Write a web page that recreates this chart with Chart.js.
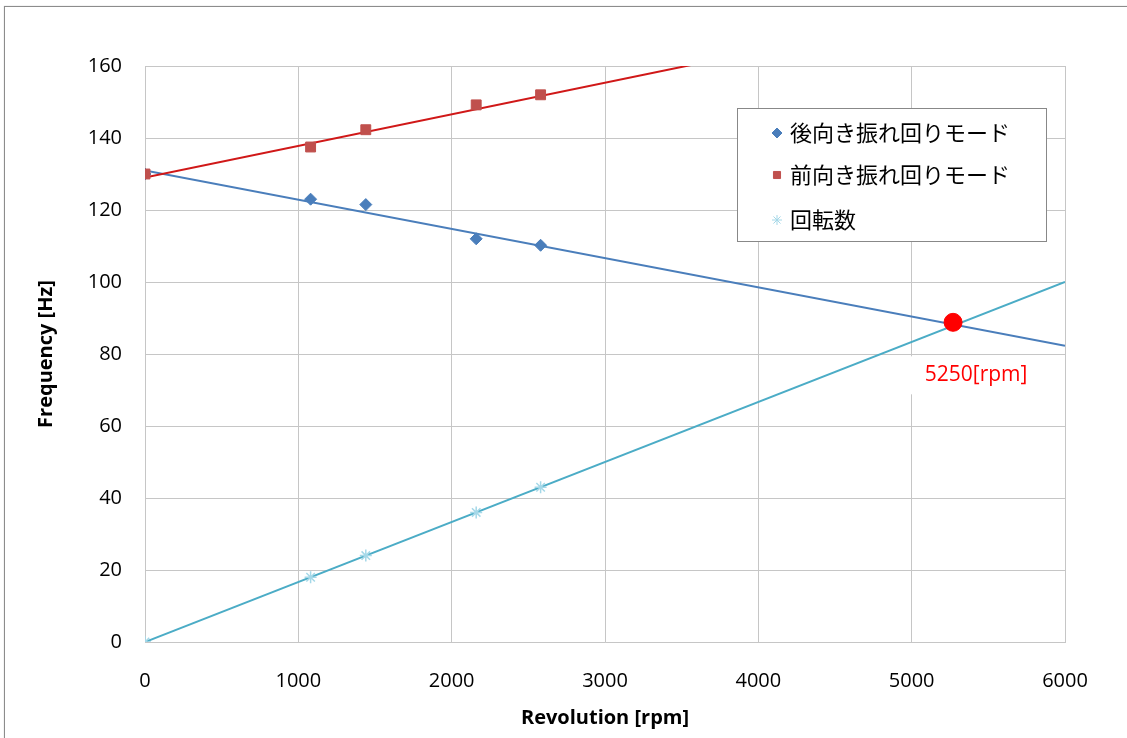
<!DOCTYPE html>
<html lang="ja">
<head>
    <meta charset="UTF-8">
    <title>Frequency vs Revolution</title>
    <script src="https://cdn.jsdelivr.net/npm/chart.js"></script>
    <style>
        body { margin: 0; background: #fff; }
        #wrap { position: relative; width: 1127px; height: 738px; overflow: hidden; }
        #frame {
            position: absolute; left: 4px; top: 6px; width: 1200px; height: 800px;
            border: 1px solid #8c8c8c; box-shadow: 0 0 1px #bbb; pointer-events: none;
        }
        canvas { position: absolute; left: 0; top: 0; }
    </style>
</head>
<body>
    <div id="wrap">
        <canvas id="freqChart" width="1127" height="738"></canvas>
        <div id="frame"></div>
    </div>
    <script>
        // measured points
        const rpm = [0, 1080, 1440, 2160, 2580];
        const backward = [130, 123, 121.5, 112, 110.2];
        const forward = [130, 137.5, 142.3, 149.2, 152];
        const revolution = [0, 18, 24, 36, 43];

        // linear trend lines (end points)
        const trendRpm = [0, 6000];
        const backwardTrend = [131, 82.3];
        const forwardTrend = [129, 181.7];
        const revolutionTrend = [0, 100];

        // crossing point
        const crossRpm = [5270];
        const crossFreq = [88.8];
        const crossLabel = '5250[rpm]';

        const labels = ['後向き振れ回りモード', '前向き振れ回りモード', '回転数'];

        const toXY = (xs, ys) => xs.map((x, i) => ({ x: x, y: ys[i] }));

        const blue = '#4a7ebb';
        const red = '#c0504d';
        const cyan = '#4bacc6';

        // legend box drawn inside the plot, like the Excel one
        const boxLegend = {
            id: 'boxLegend',
            afterDraw(chart) {
                const c = chart.ctx;
                const left = 737, top = 108, w = 309, h = 133;
                c.save();
                c.fillStyle = '#fff';
                c.fillRect(left, top, w, h);
                c.strokeStyle = '#888';
                c.lineWidth = 1;
                c.strokeRect(left + 0.5, top + 0.5, w, h);
                c.font = '22px "Noto Sans CJK JP"';
                c.textBaseline = 'middle';
                const rows = [25, 67, 112];
                [0, 1, 2].forEach(i => {
                    const ds = chart.data.datasets[i];
                    const y = top + rows[i];
                    c.fillStyle = ds.backgroundColor;
                    c.strokeStyle = ds.borderColor;
                    c.lineWidth = 1;
                    Chart.helpers.drawPoint(c, {
                        pointStyle: ds.pointStyle,
                        radius: 5,
                        borderWidth: 1
                    }, left + 40, y);
                    c.fillStyle = '#000';
                    c.fillText(labels[i], left + 53, y);
                });
                c.restore();
            }
        };

        // label under the crossing point
        const crossText = {
            id: 'crossText',
            afterDatasetsDraw(chart) {
                const meta = chart.getDatasetMeta(6);
                const pt = meta.data[0];
                const c = chart.ctx;
                c.save();
                c.fillStyle = '#fff';
                c.fillRect(pt.x - 43, pt.y + 34, 134, 38);
                c.font = '21px "Open Sans"';
                c.fillStyle = '#ff0000';
                c.textAlign = 'center';
                c.textBaseline = 'middle';
                c.fillText(crossLabel, pt.x + 23, pt.y + 53);
                c.restore();
            }
        };

        const ctx = document.getElementById('freqChart').getContext('2d');
        const chart = new Chart(ctx, {
            type: 'scatter',
            data: {
                datasets: [
                    {
                        label: labels[0],
                        data: toXY(rpm, backward),
                        pointStyle: 'rectRot',
                        pointRadius: 6,
                        backgroundColor: blue,
                        borderColor: blue,
                        borderWidth: 1,
                        order: 2
                    },
                    {
                        label: labels[1],
                        data: toXY(rpm, forward),
                        pointStyle: 'rect',
                        pointRadius: 7,
                        backgroundColor: red,
                        borderColor: red,
                        borderWidth: 1,
                        order: 1
                    },
                    {
                        label: labels[2],
                        data: toXY(rpm, revolution),
                        pointStyle: 'star',
                        pointRadius: 6,
                        backgroundColor: '#a5d8e8',
                        borderColor: '#a5d8e8',
                        borderWidth: 1.5,
                        order: 3
                    },
                    {
                        data: toXY(trendRpm, backwardTrend),
                        showLine: true,
                        pointRadius: 0,
                        borderColor: blue,
                        borderWidth: 2,
                        order: 5
                    },
                    {
                        data: toXY(trendRpm, forwardTrend),
                        showLine: true,
                        pointRadius: 0,
                        borderColor: '#d01818',
                        borderWidth: 2,
                        order: 4
                    },
                    {
                        data: toXY(trendRpm, revolutionTrend),
                        showLine: true,
                        pointRadius: 0,
                        borderColor: cyan,
                        borderWidth: 2,
                        order: 6
                    },
                    {
                        data: toXY(crossRpm, crossFreq),
                        pointStyle: 'circle',
                        pointRadius: 9,
                        backgroundColor: '#ff0000',
                        borderColor: '#ff0000',
                        order: 0
                    }
                ]
            },
            options: {
                responsive: false,
                animation: false,
                layout: { padding: { left: 0, top: 66, right: 62, bottom: 0 } },
                scales: {
                    x: {
                        type: 'linear',
                        min: 0,
                        max: 6000,
                        afterFit: s => { s.height = 96; },
                        ticks: {
                            stepSize: 1000,
                            padding: 27,
                            color: '#000',
                            font: { family: 'Open Sans', size: 20 },
                            callback: v => String(v)
                        },
                        grid: { color: '#c6c6c6', lineWidth: 1, drawTicks: false },
                        border: { color: '#c6c6c6' },
                        title: {
                            display: true,
                            text: 'Revolution [rpm]',
                            color: '#000',
                            font: { family: 'Open Sans', size: 20, weight: 'bold' },
                            padding: { top: 0, bottom: 8 }
                        }
                    },
                    y: {
                        min: 0,
                        max: 160,
                        afterFit: s => { s.width = 145; },
                        ticks: {
                            stepSize: 20,
                            padding: 23,
                            color: '#000',
                            font: { family: 'Open Sans', size: 20 }
                        },
                        grid: { color: '#c6c6c6', lineWidth: 1, drawTicks: false },
                        border: { color: '#c6c6c6' },
                        title: {
                            display: true,
                            text: 'Frequency [Hz]',
                            color: '#000',
                            font: { family: 'Open Sans', size: 20, weight: 'bold' },
                            padding: { top: 34, bottom: 0 }
                        }
                    }
                },
                plugins: {
                    legend: { display: false },
                    tooltip: { enabled: false }
                }
            },
            plugins: [crossText, boxLegend]
        });
    </script>
</body>
</html>
